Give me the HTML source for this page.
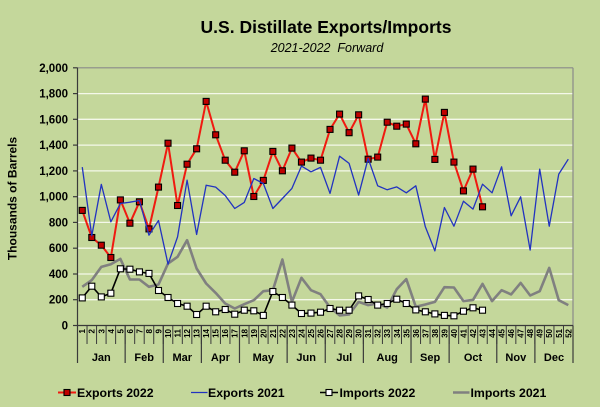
<!DOCTYPE html>
<html><head><meta charset="utf-8"><style>
html,body{margin:0;padding:0;background:#c4d79b;}
svg{display:block;}
text{font-family:"Liberation Sans",Arial,sans-serif;fill:#000;}
</style></head><body>
<svg width="600" height="407" viewBox="0 0 600 407" xmlns="http://www.w3.org/2000/svg">
<defs>
<rect id="rm" x="-3" y="-3" width="6" height="6" fill="#c00000" stroke="#000" stroke-width="1.1"/>
<rect id="wm" x="-3" y="-3" width="6" height="6" fill="#fff" stroke="#000" stroke-width="1.1"/>
</defs>
<rect x="0" y="0" width="600" height="407" fill="#c4d79b"/>
<text x="326" y="33" font-size="17.5" font-weight="bold" text-anchor="middle">U.S. Distillate Exports/Imports</text>
<text x="327" y="52" font-size="12.5" font-style="italic" text-anchor="middle">2021-2022&#160;&#160;Forward</text>
<text transform="translate(16.5,198.5) rotate(-90)" font-size="12" font-weight="bold" text-anchor="middle">Thousands of Barrels</text>
<g stroke="#f4f8ea" stroke-width="1.3">
<line x1="78" y1="299.7" x2="573" y2="299.7"/>
<line x1="78" y1="274.0" x2="573" y2="274.0"/>
<line x1="78" y1="248.2" x2="573" y2="248.2"/>
<line x1="78" y1="222.4" x2="573" y2="222.4"/>
<line x1="78" y1="196.7" x2="573" y2="196.7"/>
<line x1="78" y1="170.9" x2="573" y2="170.9"/>
<line x1="78" y1="145.1" x2="573" y2="145.1"/>
<line x1="78" y1="119.3" x2="573" y2="119.3"/>
<line x1="78" y1="93.6" x2="573" y2="93.6"/>
</g>
<line x1="77.5" y1="67.8" x2="573" y2="67.8" stroke="#8a8a8a" stroke-width="1.2"/>
<line x1="573" y1="67.8" x2="573" y2="325.5" stroke="#8a8a8a" stroke-width="1.2"/>
<g stroke="#3a3a3a" stroke-width="1.2">
<line x1="77.5" y1="67.8" x2="77.5" y2="363"/>
<line x1="77.5" y1="325.5" x2="573" y2="325.5"/>
<line x1="73" y1="325.5" x2="77.5" y2="325.5"/>
<line x1="73" y1="299.7" x2="77.5" y2="299.7"/>
<line x1="73" y1="274.0" x2="77.5" y2="274.0"/>
<line x1="73" y1="248.2" x2="77.5" y2="248.2"/>
<line x1="73" y1="222.4" x2="77.5" y2="222.4"/>
<line x1="73" y1="196.7" x2="77.5" y2="196.7"/>
<line x1="73" y1="170.9" x2="77.5" y2="170.9"/>
<line x1="73" y1="145.1" x2="77.5" y2="145.1"/>
<line x1="73" y1="119.3" x2="77.5" y2="119.3"/>
<line x1="73" y1="93.6" x2="77.5" y2="93.6"/>
<line x1="73" y1="67.8" x2="77.5" y2="67.8"/>
</g>
<line x1="86.53" y1="334.75" x2="573" y2="334.75" stroke="#3a3a3a" stroke-width="18.5" stroke-dasharray="1 8.529"/>
<g stroke="#3a3a3a" stroke-width="1.2">
<line x1="125.15" y1="325.5" x2="125.15" y2="363"/>
<line x1="163.26" y1="325.5" x2="163.26" y2="363"/>
<line x1="201.38" y1="325.5" x2="201.38" y2="363"/>
<line x1="239.49" y1="325.5" x2="239.49" y2="363"/>
<line x1="287.14" y1="325.5" x2="287.14" y2="363"/>
<line x1="325.25" y1="325.5" x2="325.25" y2="363"/>
<line x1="363.37" y1="325.5" x2="363.37" y2="363"/>
<line x1="411.02" y1="325.5" x2="411.02" y2="363"/>
<line x1="449.13" y1="325.5" x2="449.13" y2="363"/>
<line x1="496.78" y1="325.5" x2="496.78" y2="363"/>
<line x1="534.89" y1="325.5" x2="534.89" y2="363"/>
<line x1="573" y1="325.5" x2="573" y2="363"/>
</g>
<g font-size="11.5" font-weight="bold" text-anchor="end">
<text x="68" y="329.5">0</text>
<text x="68" y="303.7">200</text>
<text x="68" y="278">400</text>
<text x="68" y="252.2">600</text>
<text x="68" y="226.4">800</text>
<text x="68" y="200.7">1,000</text>
<text x="68" y="174.9">1,200</text>
<text x="68" y="149.1">1,400</text>
<text x="68" y="123.3">1,600</text>
<text x="68" y="97.6">1,800</text>
<text x="68" y="71.8">2,000</text>
</g>
<g font-size="8" font-weight="bold" text-anchor="end">
<text transform="translate(85.2,329) rotate(-90)">1</text>
<text transform="translate(94.7,329) rotate(-90)">2</text>
<text transform="translate(104.3,329) rotate(-90)">3</text>
<text transform="translate(113.8,329) rotate(-90)">4</text>
<text transform="translate(123.3,329) rotate(-90)">5</text>
<text transform="translate(132.9,329) rotate(-90)">6</text>
<text transform="translate(142.4,329) rotate(-90)">7</text>
<text transform="translate(151.9,329) rotate(-90)">8</text>
<text transform="translate(161.5,329) rotate(-90)">9</text>
<text transform="translate(171,329) rotate(-90)">10</text>
<text transform="translate(180.5,329) rotate(-90)">11</text>
<text transform="translate(190.1,329) rotate(-90)">12</text>
<text transform="translate(199.6,329) rotate(-90)">13</text>
<text transform="translate(209.1,329) rotate(-90)">14</text>
<text transform="translate(218.7,329) rotate(-90)">15</text>
<text transform="translate(228.2,329) rotate(-90)">16</text>
<text transform="translate(237.7,329) rotate(-90)">17</text>
<text transform="translate(247.3,329) rotate(-90)">18</text>
<text transform="translate(256.8,329) rotate(-90)">19</text>
<text transform="translate(266.3,329) rotate(-90)">20</text>
<text transform="translate(275.9,329) rotate(-90)">21</text>
<text transform="translate(285.4,329) rotate(-90)">22</text>
<text transform="translate(294.9,329) rotate(-90)">23</text>
<text transform="translate(304.5,329) rotate(-90)">24</text>
<text transform="translate(314,329) rotate(-90)">25</text>
<text transform="translate(323.5,329) rotate(-90)">26</text>
<text transform="translate(333,329) rotate(-90)">27</text>
<text transform="translate(342.6,329) rotate(-90)">28</text>
<text transform="translate(352.1,329) rotate(-90)">29</text>
<text transform="translate(361.6,329) rotate(-90)">30</text>
<text transform="translate(371.2,329) rotate(-90)">31</text>
<text transform="translate(380.7,329) rotate(-90)">32</text>
<text transform="translate(390.2,329) rotate(-90)">33</text>
<text transform="translate(399.8,329) rotate(-90)">34</text>
<text transform="translate(409.3,329) rotate(-90)">35</text>
<text transform="translate(418.8,329) rotate(-90)">36</text>
<text transform="translate(428.3,329) rotate(-90)">37</text>
<text transform="translate(437.9,329) rotate(-90)">38</text>
<text transform="translate(447.4,329) rotate(-90)">39</text>
<text transform="translate(456.9,329) rotate(-90)">40</text>
<text transform="translate(466.5,329) rotate(-90)">41</text>
<text transform="translate(476,329) rotate(-90)">42</text>
<text transform="translate(485.5,329) rotate(-90)">43</text>
<text transform="translate(495.1,329) rotate(-90)">44</text>
<text transform="translate(504.6,329) rotate(-90)">45</text>
<text transform="translate(514.1,329) rotate(-90)">46</text>
<text transform="translate(523.6,329) rotate(-90)">47</text>
<text transform="translate(533.2,329) rotate(-90)">48</text>
<text transform="translate(542.7,329) rotate(-90)">49</text>
<text transform="translate(552.2,329) rotate(-90)">50</text>
<text transform="translate(561.8,329) rotate(-90)">51</text>
<text transform="translate(571.3,329) rotate(-90)">52</text>
</g>
<g font-size="11" font-weight="bold" text-anchor="middle">
<text x="101.3" y="361">Jan</text>
<text x="144.2" y="361">Feb</text>
<text x="182.3" y="361">Mar</text>
<text x="220.4" y="361">Apr</text>
<text x="263.3" y="361">May</text>
<text x="306.2" y="361">Jun</text>
<text x="344.3" y="361">Jul</text>
<text x="387.2" y="361">Aug</text>
<text x="430.1" y="361">Sep</text>
<text x="473" y="361">Oct</text>
<text x="515.8" y="361">Nov</text>
<text x="554" y="361">Dec</text>
</g>
<!-- Imports 2021 gray -->
<polyline fill="none" stroke="#808080" stroke-width="2.6" stroke-linejoin="round" points="82.26,286.8 91.79,280.1 101.32,266.9 110.85,264.2 120.38,258.9 129.91,279.5 139.44,279.5 148.97,286.8 158.5,284.5 168.03,263.5 177.56,256.8 187.09,240.2 196.62,268.5 206.15,283.5 215.68,292.9 225.21,303.5 234.74,308.5 244.27,304.2 253.8,300.2 263.33,291.2 272.86,290.2 282.39,259.5 291.92,301.9 301.45,277.8 310.98,290.2 320.51,294.2 330.04,307.5 339.57,315.4 349.1,314.5 358.63,301.9 368.16,305.1 377.69,303.5 387.22,307.5 396.75,289.2 406.28,279.1 415.81,306.8 425.34,304.5 434.87,301.9 444.4,287.2 453.93,287.5 463.46,301.1 472.99,299.9 482.52,283.9 492.05,301.1 501.58,290.2 511.11,294.4 520.64,282.9 530.17,295.5 539.7,291.2 549.23,267.9 558.76,300.2 568.29,305.1"/>
<!-- Imports 2022 black -->
<polyline fill="none" stroke="#000" stroke-width="1.6" stroke-linejoin="round" points="82.26,297.9 91.79,286.2 101.32,296.9 110.85,293.2 120.38,268.8 129.91,269.2 139.44,271.9 148.97,273.4 158.5,290.5 168.03,297.5 177.56,303.5 187.09,306.2 196.62,314.5 206.15,306.2 215.68,311.8 225.21,309.5 234.74,314.2 244.27,310.2 253.8,310.8 263.33,315.4 272.86,291.5 282.39,297.5 291.92,305.1 301.45,313.5 310.98,313.1 320.51,312.2 330.04,308.5 339.57,310.2 349.1,310.2 358.63,295.9 368.16,299.5 377.69,305.1 387.22,303.5 396.75,299.2 406.28,303.5 415.81,309.9 425.34,311.8 434.87,313.9 444.4,315.4 453.93,315.8 463.46,311.2 472.99,307.8 482.52,310.2"/>
<g>
<use href="#wm" x="82.26" y="297.9"/><use href="#wm" x="91.79" y="286.2"/><use href="#wm" x="101.32" y="296.9"/><use href="#wm" x="110.85" y="293.2"/><use href="#wm" x="120.38" y="268.8"/><use href="#wm" x="129.91" y="269.2"/><use href="#wm" x="139.44" y="271.9"/><use href="#wm" x="148.97" y="273.4"/><use href="#wm" x="158.5" y="290.5"/><use href="#wm" x="168.03" y="297.5"/><use href="#wm" x="177.56" y="303.5"/><use href="#wm" x="187.09" y="306.2"/><use href="#wm" x="196.62" y="314.5"/><use href="#wm" x="206.15" y="306.2"/><use href="#wm" x="215.68" y="311.8"/><use href="#wm" x="225.21" y="309.5"/><use href="#wm" x="234.74" y="314.2"/><use href="#wm" x="244.27" y="310.2"/><use href="#wm" x="253.8" y="310.8"/><use href="#wm" x="263.33" y="315.4"/><use href="#wm" x="272.86" y="291.5"/><use href="#wm" x="282.39" y="297.5"/><use href="#wm" x="291.92" y="305.1"/><use href="#wm" x="301.45" y="313.5"/><use href="#wm" x="310.98" y="313.1"/><use href="#wm" x="320.51" y="312.2"/><use href="#wm" x="330.04" y="308.5"/><use href="#wm" x="339.57" y="310.2"/><use href="#wm" x="349.1" y="310.2"/><use href="#wm" x="358.63" y="295.9"/><use href="#wm" x="368.16" y="299.5"/><use href="#wm" x="377.69" y="305.1"/><use href="#wm" x="387.22" y="303.5"/><use href="#wm" x="396.75" y="299.2"/><use href="#wm" x="406.28" y="303.5"/><use href="#wm" x="415.81" y="309.9"/><use href="#wm" x="425.34" y="311.8"/><use href="#wm" x="434.87" y="313.9"/><use href="#wm" x="444.4" y="315.4"/><use href="#wm" x="453.93" y="315.8"/><use href="#wm" x="463.46" y="311.2"/><use href="#wm" x="472.99" y="307.8"/><use href="#wm" x="482.52" y="310.2"/>
</g>
<!-- Exports 2022 red -->
<polyline fill="none" stroke="#f01a10" stroke-width="2" stroke-linejoin="round" points="82.26,210.4 91.79,237.5 101.32,245.2 110.85,257.5 120.38,199.9 129.91,223.2 139.44,201.8 148.97,228.9 158.5,187.1 168.03,143.2 177.56,205.5 187.09,164.2 196.62,148.8 206.15,101.4 215.68,134.8 225.21,160.2 234.74,172.2 244.27,150.8 253.8,196.5 263.33,180.4 272.86,151.4 282.39,170.8 291.92,148.1 301.45,162.1 310.98,158.1 320.51,160.2 330.04,129.4 339.57,114.1 349.1,132.7 358.63,114.8 368.16,159.2 377.69,157.1 387.22,122.2 396.75,126.2 406.28,124.1 415.81,143.8 425.34,99.1 434.87,159.4 444.4,112.4 453.93,162.1 463.46,190.9 472.99,169.1 482.52,206.8"/>
<g>
<use href="#rm" x="82.26" y="210.4"/><use href="#rm" x="91.79" y="237.5"/><use href="#rm" x="101.32" y="245.2"/><use href="#rm" x="110.85" y="257.5"/><use href="#rm" x="120.38" y="199.9"/><use href="#rm" x="129.91" y="223.2"/><use href="#rm" x="139.44" y="201.8"/><use href="#rm" x="148.97" y="228.9"/><use href="#rm" x="158.5" y="187.1"/><use href="#rm" x="168.03" y="143.2"/><use href="#rm" x="177.56" y="205.5"/><use href="#rm" x="187.09" y="164.2"/><use href="#rm" x="196.62" y="148.8"/><use href="#rm" x="206.15" y="101.4"/><use href="#rm" x="215.68" y="134.8"/><use href="#rm" x="225.21" y="160.2"/><use href="#rm" x="234.74" y="172.2"/><use href="#rm" x="244.27" y="150.8"/><use href="#rm" x="253.8" y="196.5"/><use href="#rm" x="263.33" y="180.4"/><use href="#rm" x="272.86" y="151.4"/><use href="#rm" x="282.39" y="170.8"/><use href="#rm" x="291.92" y="148.1"/><use href="#rm" x="301.45" y="162.1"/><use href="#rm" x="310.98" y="158.1"/><use href="#rm" x="320.51" y="160.2"/><use href="#rm" x="330.04" y="129.4"/><use href="#rm" x="339.57" y="114.1"/><use href="#rm" x="349.1" y="132.7"/><use href="#rm" x="358.63" y="114.8"/><use href="#rm" x="368.16" y="159.2"/><use href="#rm" x="377.69" y="157.1"/><use href="#rm" x="387.22" y="122.2"/><use href="#rm" x="396.75" y="126.2"/><use href="#rm" x="406.28" y="124.1"/><use href="#rm" x="415.81" y="143.8"/><use href="#rm" x="425.34" y="99.1"/><use href="#rm" x="434.87" y="159.4"/><use href="#rm" x="444.4" y="112.4"/><use href="#rm" x="453.93" y="162.1"/><use href="#rm" x="463.46" y="190.9"/><use href="#rm" x="472.99" y="169.1"/><use href="#rm" x="482.52" y="206.8"/>
</g>
<!-- Exports 2021 blue -->
<polyline fill="none" stroke="#2233c0" stroke-width="1.3" stroke-linejoin="round" points="82.26,167.1 91.79,235.8 101.32,184.4 110.85,221.8 120.38,203.5 129.91,202.2 139.44,200.5 148.97,235.2 158.5,220.5 168.03,264.2 177.56,236.9 187.09,180.2 196.62,234.5 206.15,185.2 215.68,187.1 225.21,195.5 234.74,208.5 244.27,202.4 253.8,178.5 263.33,183.5 272.86,208.5 282.39,198.5 291.92,188.4 301.45,166.1 310.98,171.8 320.51,167.4 330.04,193.4 339.57,156.2 349.1,163.4 358.63,195.1 368.16,158.4 377.69,185.8 387.22,189.8 396.75,186.9 406.28,192.8 415.81,185.8 425.34,226.8 434.87,250.9 444.4,207.5 453.93,226.2 463.46,201.2 472.99,209.1 482.52,184.2 492.05,192.8 501.58,166.8 511.11,215.8 520.64,196.8 530.17,250.1 539.7,169.1 549.23,226.2 558.76,174.1 568.29,159.2"/>
<!-- Legend -->
<line x1="58" y1="392.5" x2="76" y2="392.5" stroke="#f01a10" stroke-width="2"/>
<use href="#rm" x="67" y="392.5"/>
<text x="77" y="397" font-size="12.3" font-weight="bold">Exports 2022</text>
<line x1="191" y1="392.5" x2="207.5" y2="392.5" stroke="#2233c0" stroke-width="1.3"/>
<text x="208" y="397" font-size="12.3" font-weight="bold">Exports 2021</text>
<line x1="320" y1="392.5" x2="338" y2="392.5" stroke="#000" stroke-width="1.6"/>
<use href="#wm" x="329" y="392.5"/>
<text x="339.5" y="397" font-size="12.3" font-weight="bold">Imports 2022</text>
<line x1="453" y1="392.5" x2="469.5" y2="392.5" stroke="#808080" stroke-width="2.6"/>
<text x="470.5" y="397" font-size="12.3" font-weight="bold">Imports 2021</text>
</svg>
</body></html>
